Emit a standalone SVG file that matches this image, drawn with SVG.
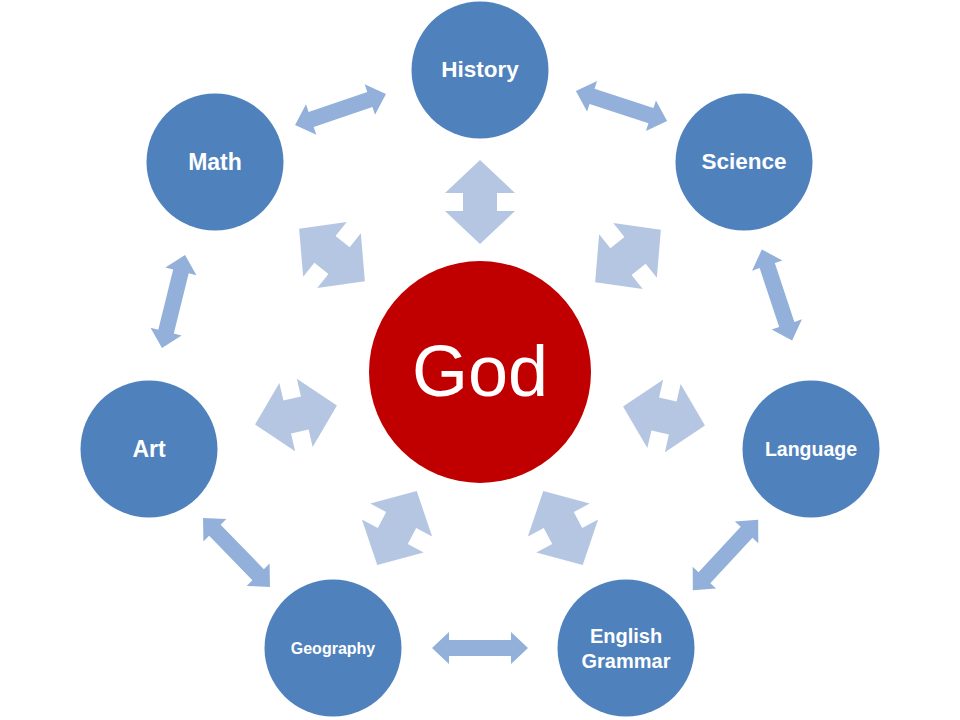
<svg xmlns="http://www.w3.org/2000/svg" xmlns:xlink="http://www.w3.org/1999/xlink" width="960" height="720" viewBox="0 0 960 720">
<defs>
<style>
.node{fill:#4F81BD}
.lbl{fill:#FFFFFF;font-family:"Liberation Sans",Arial,sans-serif;font-weight:bold;text-anchor:middle}
.big{fill:#B4C6E2}
.thin{fill:#92B0DA}
</style>
<path id="bigArrow" d="M0,-42 L35,-9 L17,-9 L17,9 L35,9 L0,42 L-35,9 L-17,9 L-17,-9 L-35,-9 Z"/>
<path id="thinArrow" d="M-48,0 L-31,-16 L-31,-8 L31,-8 L31,-16 L48,0 L31,16 L31,8 L-31,8 L-31,16 Z"/>
</defs>
<rect width="960" height="720" fill="#FFFFFF"/>
<g id="connectors">
<use xlink:href="#bigArrow" href="#bigArrow" class="big" transform="translate(480,202)"/>
<use xlink:href="#bigArrow" href="#bigArrow" class="big" transform="translate(332,255) rotate(-51.5)"/>
<use xlink:href="#bigArrow" href="#bigArrow" class="big" transform="translate(628,256) rotate(51.5)"/>
<use xlink:href="#bigArrow" href="#bigArrow" class="big" transform="translate(296,415) rotate(-103)"/>
<use xlink:href="#bigArrow" href="#bigArrow" class="big" transform="translate(664,416) rotate(103)"/>
<use xlink:href="#bigArrow" href="#bigArrow" class="big" transform="translate(397,528) rotate(-152)"/>
<use xlink:href="#bigArrow" href="#bigArrow" class="big" transform="translate(563,528) rotate(152)"/>
<use xlink:href="#thinArrow" href="#thinArrow" class="thin" transform="translate(340.5,109.5) rotate(-18.8)"/>
<use xlink:href="#thinArrow" href="#thinArrow" class="thin" transform="translate(621.5,106) rotate(18.2)"/>
<use xlink:href="#thinArrow" href="#thinArrow" class="thin" transform="translate(777,295) rotate(71.6)"/>
<use xlink:href="#thinArrow" href="#thinArrow" class="thin" transform="translate(725.5,555) rotate(132.9)"/>
<use xlink:href="#thinArrow" href="#thinArrow" class="thin" transform="translate(480,648)"/>
<use xlink:href="#thinArrow" href="#thinArrow" class="thin" transform="translate(236.5,552.5) rotate(45.8)"/>
<use xlink:href="#thinArrow" href="#thinArrow" class="thin" transform="translate(173.5,301.5) rotate(103.9)"/>
</g>
<g id="god">
<circle cx="480" cy="372" r="111" fill="#C00000"/>
<text x="480" y="396" fill="#FFFFFF" font-family="'Liberation Sans',Arial,sans-serif" font-size="72" text-anchor="middle">God</text>
</g>
<g id="history">
<circle class="node" cx="480" cy="70" r="68.5"/>
<text class="lbl" x="480" y="77" font-size="22.5">History</text>
</g>
<g id="science">
<circle class="node" cx="744" cy="162" r="68.5"/>
<text class="lbl" x="744" y="169" font-size="22.5">Science</text>
</g>
<g id="language">
<circle class="node" cx="811" cy="449" r="68.5"/>
<text class="lbl" x="811" y="456" font-size="19.5">Language</text>
</g>
<g id="english-grammar">
<circle class="node" cx="626" cy="648" r="68.5"/>
<text class="lbl" x="626" y="643" font-size="20">English</text>
<text class="lbl" x="626" y="668" font-size="20">Grammar</text>
</g>
<g id="geography">
<circle class="node" cx="333" cy="648" r="68.5"/>
<text class="lbl" x="333" y="654" font-size="16">Geography</text>
</g>
<g id="art">
<circle class="node" cx="149" cy="449" r="68.5"/>
<text class="lbl" x="149" y="457" font-size="23">Art</text>
</g>
<g id="math">
<circle class="node" cx="215" cy="162" r="68.5"/>
<text class="lbl" x="215" y="170" font-size="23">Math</text>
</g>
</svg>
